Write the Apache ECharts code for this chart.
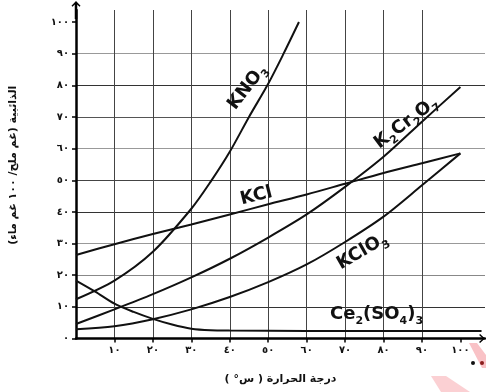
<!DOCTYPE html>
<html><head><meta charset="utf-8">
<script src="https://cdn.jsdelivr.net/npm/echarts@6/dist/echarts.min.js"></script>
<style>html,body{margin:0;padding:0;background:#fff}#c{width:486px;height:392px}</style>
</head><body><div id="c"></div>
<script>
// ---- data ----
const kno3Temp = [0, 10, 20, 30, 35, 40, 45, 50, 54, 58];
const kno3Sol  = [12.4, 18.3, 27.4, 41, 49.5, 59, 70, 80.5, 90, 100];
const tempAll  = [0, 10, 20, 30, 40, 50, 60, 70, 80, 90, 100];
const kclSol     = [26.4, 29.8, 33, 36, 39.2, 42.4, 45.5, 48.9, 52.3, 55.4, 58.5];
const k2cr2o7Sol = [4.6, 9.2, 14, 19.3, 25.2, 31.9, 39.2, 47.9, 57.4, 68.5, 79.5];
const kclo3Sol   = [2.9, 3.9, 6.1, 9.2, 13.1, 17.8, 23.4, 30.5, 38.5, 48.4, 58.5];
const ceTemp = [0, 5, 10, 15, 20, 25, 30, 35, 40, 60, 80, 100, 105.5];
const ceSol  = [18.3, 14.8, 11, 8.4, 6.2, 4.4, 3.1, 2.6, 2.5, 2.4, 2.4, 2.4, 2.4];
const xTickValues = [10, 20, 30, 40, 50, 60, 70, 80, 90, 100];
const yTickValues = [0, 10, 20, 30, 40, 50, 60, 70, 80, 90, 100];
const xTitle = 'درجة الحرارة ( س° )\u200F';
const yTitle = 'الذائبية (غم ملح/ ١٠٠ غم ماء)\u200F';
const seriesNames = ['KNO3', 'KCl', 'K2Cr2O7', 'KClO3', 'Ce2(SO4)3'];
const labelTexts = ['{n|KNO}{s|3}', '{n|KCl}', '{n|K}{s|2}{n|Cr}{s|2}{n|O}{s|7}', '{n|KClO}{s|3}', '{n|Ce}{s|2}{n|(SO}{s|4}{n|)}{s|3}'];
const labelCoords = [[44.6, 79.4], [46.9, 45], [85.9, 68.1], [74.5, 27.5], [78.2, 7.6]];
const labelAngles = [52, 14, 37, 30, 0];

const arabicDigits = '٠١٢٣٤٥٦٧٨٩';
function toArabic(v) { return String(Math.round(v)).replace(/[0-9]/g, d => arabicDigits[+d]); }
function pairs(xs, ys) { return xs.map((x, i) => [x, ys[i]]); }

const FONT = 'DejaVu Sans';
const rich = {
  n: { fontFamily: FONT, fontWeight: 'bold', fontSize: 18, color: '#111', lineHeight: 24 },
  s: { fontFamily: FONT, fontWeight: 'bold', fontSize: 11, color: '#111', lineHeight: 12, verticalAlign: 'bottom' }
};

const dataSets = [pairs(kno3Temp, kno3Sol), pairs(tempAll, kclSol), pairs(tempAll, k2cr2o7Sol), pairs(tempAll, kclo3Sol), pairs(ceTemp, ceSol)];

const series = dataSets.map((d, i) => ({
  name: seriesNames[i],
  type: 'line',
  data: d,
  smooth: 0.3,
  symbol: 'none',
  lineStyle: { color: '#111', width: 2 },
  z: 5,
  markPoint: {
    silent: true,
    symbol: 'circle',
    symbolSize: 0,
    itemStyle: { color: 'transparent' },
    label: { show: true, position: 'inside', rotate: labelAngles[i], formatter: labelTexts[i], rich: rich },
    data: [{ coord: labelCoords[i] }]
  }
}));

const yArrow = 'path://M45,0 L90,48 L80,58 L57.5,34 L57.5,180 L32.5,180 L32.5,34 L10,58 L0,48 Z';
const xArrow = 'path://M45,0 L90,48 L80,58 L45,20 L10,58 L0,48 Z';

const chart = echarts.init(document.getElementById('c'), null, { renderer: 'canvas' });
chart.setOption({
  animation: false,
  backgroundColor: '#fff',
  grid: { left: 70, right: 1, top: 10, bottom: 53.5, containLabel: false },
  xAxis: {
    type: 'value', min: 0, max: 106.4, interval: 10,
    name: xTitle, nameLocation: 'middle', nameGap: 35,
    nameTextStyle: { fontFamily: FONT, fontWeight: 'bold', fontSize: 11, color: '#111' },
    axisLine: { show: true, lineStyle: { color: '#000', width: 2.5 }, symbol: ['none', xArrow], symbolSize: [9, 6], symbolOffset: [0, -3] },
    axisTick: { show: true, inside: false, length: 4, lineStyle: { color: '#000', width: 1.5 }, customValues: xTickValues },
    axisLabel: { margin: 7, fontFamily: FONT, fontWeight: 'bold', fontSize: 10, color: '#111', customValues: xTickValues, formatter: v => toArabic(v) },
    splitLine: { show: true, showMaxLine: false, lineStyle: { color: '#444', width: 1 } }
  },
  yAxis: {
    type: 'value', min: 0, max: 103.8, interval: 10,
    name: yTitle, nameLocation: 'middle', nameGap: 57, nameRotate: 90,
    nameTextStyle: { fontFamily: FONT, fontWeight: 'bold', fontSize: 11, color: '#111', padding: [0, 0, 0, 18] },
    axisLine: { show: true, lineStyle: { color: '#000', width: 2.5 }, symbol: ['none', yArrow], symbolSize: [9, 18] },
    axisTick: { show: true, inside: false, length: 4, lineStyle: { color: '#000', width: 1.5 }, customValues: yTickValues },
    axisLabel: { margin: 7, fontFamily: FONT, fontWeight: 'bold', fontSize: 10, color: '#111', customValues: yTickValues, formatter: v => toArabic(v) },
    splitLine: { show: true, showMaxLine: false, lineStyle: { color: ['#333', '#333', '#888', '#999', '#333', '#444', '#999', '#555', '#333', '#999', '#888'], width: 1 } }
  },
  graphic: [
    { type: 'polygon', z: 0, shape: { points: [[469, 343], [477, 343], [486, 355], [486, 368], [482, 368]] }, style: { fill: '#f9c2c6' } },
    { type: 'polygon', z: 0, shape: { points: [[431, 376], [446, 376], [470, 392], [441, 392]] }, style: { fill: '#fbd0d3' } },
    { type: 'circle', shape: { cx: 473, cy: 363, r: 2 }, style: { fill: '#111' } },
    { type: 'circle', shape: { cx: 482, cy: 363, r: 2 }, style: { fill: '#8a1c1c' } }
  ],
  series: series
});
</script>
</body></html>
